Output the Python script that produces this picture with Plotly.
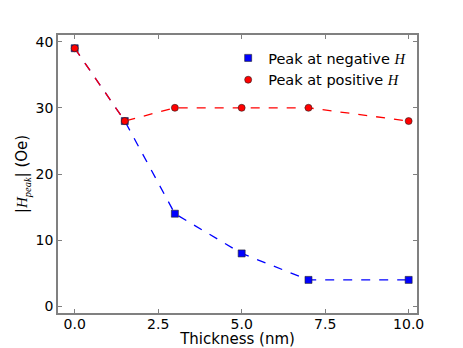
import plotly.graph_objects as go

# thickness values (nm)
thickness = [0, 1.5, 3, 5, 7, 10]
# |H_peak| (Oe)
peak_negative = [39, 28, 14, 8, 4, 4]
peak_positive = [39, 28, 30, 30, 30, 28]

x_ticks = [0, 2.5, 5, 7.5, 10]
x_tick_labels = ['0.0', '2.5', '5.0', '7.5', '10.0']
y_ticks = [0, 10, 20, 30, 40]

# math-style italic letters
H = '<span style="font-family:Liberation Serif"><i>H</i></span>'
peak = '<span style="font-family:Liberation Serif"><i>peak</i></span>'

series = [
    ('Peak at negative ' + H, peak_negative, 'blue', 'square'),
    ('Peak at positive ' + H, peak_positive, 'red', 'circle'),
]

fig = go.Figure()
for name, values, color, symbol in series:
    # dashed connecting line (no legend entry)
    fig.add_trace(go.Scatter(x=thickness, y=values, mode='lines', showlegend=False,
                             line=dict(color=color, dash='dash', width=1.3)))
    # markers (legend shows marker only)
    fig.add_trace(go.Scatter(x=thickness, y=values, mode='markers', name=name,
                             marker=dict(symbol=symbol, size=7, color=color,
                                         line=dict(color='#222', width=0.6))))

axis_style = dict(showline=True, linecolor='#808080', linewidth=1.5, mirror='ticks',
                  ticks='inside', ticklen=4, tickcolor='#808080', showgrid=False,
                  zeroline=False, automargin=False,
                  tickfont=dict(size=14, color='black'))

# page body has an 8px margin, so the figure is a bit smaller and shifted
fig.update_layout(
    width=455, height=340,
    margin=dict(l=50, r=46, t=27, b=35),
    paper_bgcolor='white', plot_bgcolor='white',
    font=dict(family='DejaVu Sans', color='black'),
    showlegend=True,
    legend=dict(x=0.474, y=0.975, xanchor='left', yanchor='top',
                bgcolor='rgba(0,0,0,0)', font=dict(size=14.5),
                itemwidth=30, tracegroupgap=0),
    xaxis=dict(range=[-0.5, 10.25], tickvals=x_ticks, ticktext=x_tick_labels,
               ticklabelstandoff=-3,
               title=dict(text='Thickness (nm)', font=dict(size=15), standoff=2),
               **axis_style),
    yaxis=dict(range=[-1, 41], tickvals=y_ticks,
               title=dict(text='|' + H + '<sub>' + peak + '</sub>| (Oe)',
                          font=dict(size=15), standoff=4),
               **axis_style),
)

fig.write_html("out.html")
